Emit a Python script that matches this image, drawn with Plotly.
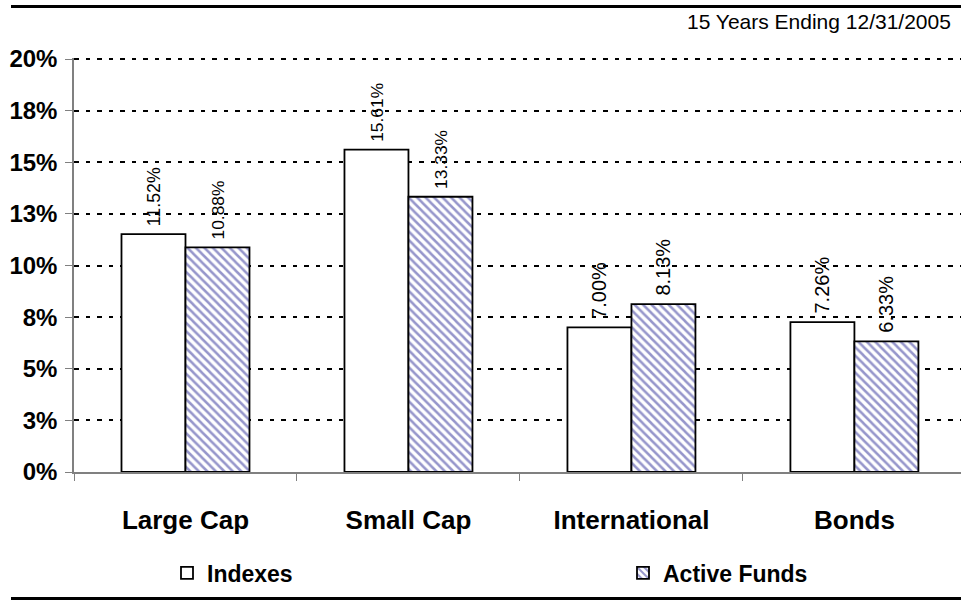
import plotly.graph_objects as go

categories = ["Large Cap", "Small Cap", "International", "Bonds"]
indexes = [11.52, 15.61, 7.00, 7.26]
active_funds = [10.88, 13.33, 8.13, 6.33]
tick_vals = [0, 2.5, 5, 7.5, 10, 12.5, 15, 17.5, 20]
tick_text = ["0%", "3%", "5%", "8%", "10%", "13%", "15%", "18%", "20%"]
subtitle = "15 Years Ending 12/31/2005"

FONT = "Liberation Sans, Arial, sans-serif"

W, H = 961, 600
L, R, T, B = 74, 0, 58, 128
plot_w = W - L - R
plot_h = H - T - B

def px_x(p):
    return (p - L) / plot_w

def px_y(p):
    return (H - B - p) / plot_h

def label(v):
    return "\u00a0" + f"{v:.2f}%"

fig = go.Figure()
fig.add_trace(go.Bar(
    name="Indexes", x=categories, y=indexes, legendwidth=411,
    marker=dict(color="white", line=dict(color="black", width=1.8)),
    text=[label(v) for v in indexes], textposition="outside", textangle=-90,
    textfont=dict(family=FONT, size=20, color="black"), cliponaxis=False,
))
fig.add_trace(go.Bar(
    name="Active Funds", x=categories, y=active_funds, legendwidth=150,
    marker=dict(color="white", line=dict(color="black", width=1.8),
                pattern=dict(shape="\\", fgcolor="#2e2e98", bgcolor="white",
                             size=6, solidity=0.42)),
    text=[label(v) for v in active_funds], textposition="outside", textangle=-90,
    textfont=dict(family=FONT, size=20, color="black"), cliponaxis=False,
))

fig.update_layout(
    width=W, height=H,
    margin=dict(l=L, r=R, t=T, b=B, pad=0),
    paper_bgcolor="white", plot_bgcolor="white",
    barmode="group", bargap=0.426, bargroupgap=0,
    font=dict(family=FONT, color="black"),
    showlegend=True,
    legend=dict(orientation="h", x=px_x(167), y=px_y(573), xanchor="left", yanchor="middle",
                itemwidth=30,
                font=dict(family=FONT, size=23, color="black", weight="bold"),
                bgcolor="rgba(0,0,0,0)", traceorder="normal"),
    xaxis=dict(range=[-0.5, 3.478], showline=True, linecolor="#808080", linewidth=1.5,
               ticks="outside", tickson="boundaries", ticklen=7, tickcolor="#808080",
               showgrid=False, tickfont=dict(family=FONT, size=26, color="black", weight="bold"),
               ticklabelstandoff=24, fixedrange=True),
    yaxis=dict(range=[0, 20.05], tickvals=tick_vals, ticktext=tick_text,
               showline=True, linecolor="#808080", linewidth=1.5,
               ticks="outside", ticklen=7, tickcolor="#808080",
               showgrid=True, gridcolor="black", gridwidth=2.2, griddash="4.5px,7px",
               zeroline=False, tickfont=dict(family=FONT, size=24, color="black", weight="bold"),
               ticklabelstandoff=3, fixedrange=True),
    annotations=[dict(text=subtitle, xref="paper", yref="paper", x=px_x(953), y=px_y(21),
                      xanchor="right", yanchor="middle", showarrow=False,
                      font=dict(family=FONT, size=21, color="black"))],
    shapes=[
        dict(type="line", xref="paper", yref="paper", x0=px_x(11), x1=px_x(961),
             y0=px_y(6.5), y1=px_y(6.5), line=dict(color="black", width=3)),
        dict(type="line", xref="paper", yref="paper", x0=px_x(11), x1=px_x(961),
             y0=px_y(598.5), y1=px_y(598.5), line=dict(color="black", width=3)),
    ],
)

fig.write_html("out.html", config={"displayModeBar": False})
